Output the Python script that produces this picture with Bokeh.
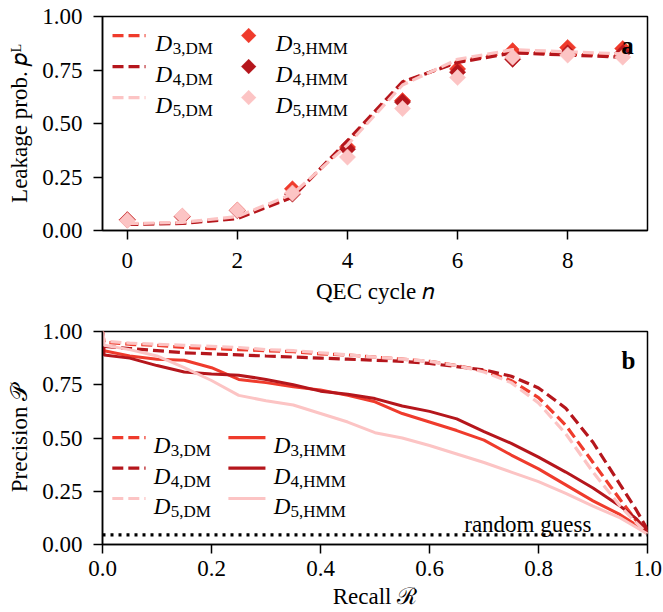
import math
from bokeh.plotting import figure
from bokeh.models import Range1d, FixedTicker, NumeralTickFormatter, Label, Arrow, PolyAnnotation
from bokeh.layouts import column
from bokeh.embed import file_html
from bokeh.resources import INLINE

FONT = "Liberation Serif"

# ---------------- data: panel a ----------------
cycles = [0, 1, 2, 3, 4, 5, 6, 7, 8, 9]
d3_dm = [0.030, 0.035, 0.060, 0.160, 0.410, 0.690, 0.790, 0.835, 0.825, 0.815]
d4_dm = [0.028, 0.033, 0.055, 0.155, 0.420, 0.695, 0.785, 0.830, 0.820, 0.810]
d5_dm = [0.032, 0.038, 0.065, 0.170, 0.400, 0.680, 0.800, 0.845, 0.835, 0.825]
d3_hmm = [0.050, 0.065, 0.095, 0.195, 0.390, 0.607, 0.755, 0.840, 0.855, 0.850]
d4_hmm = [0.050, 0.065, 0.093, 0.170, 0.380, 0.600, 0.740, 0.800, 0.830, 0.830]
d5_hmm = [0.047, 0.068, 0.095, 0.175, 0.343, 0.570, 0.715, 0.810, 0.820, 0.810]

# ---------------- data: panel b ----------------
recall = [0.0, 0.003, 0.05, 0.1, 0.15, 0.2, 0.25, 0.3, 0.35, 0.4, 0.45, 0.5,
          0.55, 0.6, 0.65, 0.7, 0.75, 0.8, 0.85, 0.9, 0.95, 0.98, 1.0]
p3_dm = [1.0, 0.950, 0.940, 0.935, 0.925, 0.920, 0.915, 0.910, 0.905, 0.895, 0.890, 0.880,
         0.870, 0.860, 0.840, 0.815, 0.770, 0.690, 0.560, 0.385, 0.210, 0.110, 0.060]
p4_dm = [1.0, 0.930, 0.920, 0.910, 0.900, 0.895, 0.890, 0.885, 0.880, 0.875, 0.870, 0.865,
         0.860, 0.850, 0.835, 0.820, 0.790, 0.735, 0.640, 0.480, 0.280, 0.160, 0.070]
p5_dm = [1.0, 0.955, 0.945, 0.940, 0.935, 0.930, 0.925, 0.915, 0.910, 0.900, 0.890, 0.880,
         0.870, 0.860, 0.840, 0.810, 0.760, 0.665, 0.520, 0.340, 0.180, 0.100, 0.050]
p3_hmm = [1.0, 0.910, 0.885, 0.870, 0.865, 0.830, 0.775, 0.760, 0.740, 0.725, 0.700, 0.670,
          0.615, 0.575, 0.535, 0.490, 0.420, 0.355, 0.280, 0.205, 0.140, 0.090, 0.050]
p4_hmm = [1.0, 0.890, 0.875, 0.840, 0.810, 0.800, 0.795, 0.775, 0.750, 0.720, 0.705, 0.685,
          0.650, 0.625, 0.590, 0.530, 0.475, 0.410, 0.340, 0.265, 0.180, 0.120, 0.060]
p5_hmm = [1.0, 0.935, 0.915, 0.885, 0.830, 0.770, 0.700, 0.675, 0.655, 0.615, 0.575, 0.525,
          0.500, 0.465, 0.425, 0.385, 0.340, 0.295, 0.240, 0.180, 0.125, 0.080, 0.050]
guess_x = [0.0, 1.0]
guess_y = [0.045, 0.045]

dists = [3, 4, 5]
colors = {3: "#ef3b2c", 4: "#b5161c", 5: "#fcc4c4"}
top_dm = {3: d3_dm, 4: d4_dm, 5: d5_dm}
top_hmm = {3: d3_hmm, 4: d4_hmm, 5: d5_hmm}
bot_dm = {3: p3_dm, 4: p4_dm, 5: p5_dm}
bot_hmm = {3: p3_hmm, 4: p4_hmm, 5: p5_hmm}

W = 663


def make_fig(xr, yr, height, btop, bbot, xlabel, ylabel, xl_standoff, xlab_standoff):
    p = figure(width=W, height=height, x_range=xr, y_range=yr,
               output_backend="svg", toolbar_location=None,
               min_border_left=102, min_border_right=16,
               min_border_top=btop, min_border_bottom=bbot,
               x_axis_label=xlabel, y_axis_label=ylabel)
    p.xgrid.visible = False
    p.ygrid.visible = False
    p.outline_line_color = "black"
    p.outline_line_width = 1.5
    p.outline_line_alpha = 1.0
    p.background_fill_color = "white"
    p.border_fill_color = "white"
    for ax in (p.xaxis[0], p.yaxis[0]):
        ax.axis_line_color = "black"
        ax.axis_line_width = 1.5
        ax.major_tick_line_color = "black"
        ax.major_tick_line_width = 1.5
        ax.major_tick_out = 9
        ax.major_tick_in = 0
        ax.minor_tick_out = 0
        ax.minor_tick_in = 0
        ax.major_label_text_font = FONT
        ax.major_label_text_font_size = "23px"
        ax.major_label_text_color = "black"
        ax.axis_label_text_font = FONT
        ax.axis_label_text_font_size = "23px"
        ax.axis_label_text_font_style = "normal"
        ax.axis_label_text_color = "black"
    p.yaxis[0].major_label_standoff = 11
    p.yaxis[0].axis_label_standoff = 7
    p.xaxis[0].major_label_standoff = xl_standoff
    p.xaxis[0].axis_label_standoff = xlab_standoff
    return p


def lab(p, x, y, text, size="23px", style="normal", align="left",
        baseline="alphabetic", angle=0):
    p.add_layout(Label(x=x, y=y, text=text, text_font=FONT, text_font_size=size,
                       text_font_style=style, text_align=align, text_baseline=baseline,
                       angle=angle, angle_units="deg", text_color="black"))


def seg(p, x0, x1, y, color, dash):
    p.add_layout(Arrow(end=None, x_start=x0, y_start=y, x_end=x1, y_end=y,
                       line_color=color, line_width=3.2, line_dash=dash))


# ================= panel a =================
pa = make_fig(Range1d(-0.45, 9.45), Range1d(0, 1), 310, 16, 80,
              "QEC cycle \U0001D45B", "Leakage prob. \U0001D45D\u1D38", 13, 8)
pa.xaxis[0].ticker = FixedTicker(ticks=[0, 2, 4, 6, 8])
pa.yaxis[0].ticker = FixedTicker(ticks=[0, 0.25, 0.5, 0.75, 1.0])
pa.yaxis[0].formatter = NumeralTickFormatter(format="0.00")

for d in dists:
    pa.line(cycles, top_dm[d], line_color=colors[d], line_width=3.2, line_dash="11 5")
    pa.scatter(cycles, top_hmm[d], marker="square", angle=math.pi / 4, size=11.5,
               fill_color=colors[d], line_color=colors[d], line_width=0.5)

# legend a
rows_a = [0.911, 0.766, 0.621]
for d, ry in zip(dists, rows_a):
    seg(pa, -0.268, 0.332, ry, colors[d], "11 5")
    lab(pa, 0.514, ry - 0.037, "D", style="italic")
    lab(pa, 0.514 + 0.31, ry - 0.061, "%d,DM" % d, size="17px")
    cx, dx, dy = 2.205, 0.136, 0.035
    pa.add_layout(PolyAnnotation(xs=[cx - dx, cx, cx + dx, cx], ys=[ry, ry + dy, ry, ry - dy],
                                 fill_color=colors[d], fill_alpha=1.0,
                                 line_color=colors[d], line_width=0.5))
    lab(pa, 2.695, ry - 0.037, "D", style="italic")
    lab(pa, 2.695 + 0.31, ry - 0.061, "%d,HMM" % d, size="17px")

lab(pa, 9.20, 0.864, "a", size="25px", style="bold", align="right")

# ================= panel b =================
pb = make_fig(Range1d(0, 1), Range1d(0, 1), 302, 21, 68,
              "Recall \u211b", "Precision \U0001D4AB", 7, 5)
pb.xaxis[0].ticker = FixedTicker(ticks=[0, 0.2, 0.4, 0.6, 0.8, 1.0])
pb.xaxis[0].formatter = NumeralTickFormatter(format="0.0")
pb.yaxis[0].ticker = FixedTicker(ticks=[0, 0.25, 0.5, 0.75, 1.0])
pb.yaxis[0].formatter = NumeralTickFormatter(format="0.00")

for d in dists:
    pb.line(recall, bot_dm[d], line_color=colors[d], line_width=3.2, line_dash="11 5")
    pb.line(recall, bot_hmm[d], line_color=colors[d], line_width=3.0)
pb.line(guess_x, guess_y, line_color="black", line_width=3.2, line_dash="3 5")

rows_b = [0.502, 0.359, 0.216]
for d, ry in zip(dists, rows_b):
    seg(pb, 0.018, 0.079, ry, colors[d], "11 5")
    lab(pb, 0.094, ry - 0.0376, "D", style="italic")
    lab(pb, 0.094 + 0.031, ry - 0.061, "%d,DM" % d, size="17px")
    seg(pb, 0.231, 0.299, ry, colors[d], "solid")
    lab(pb, 0.314, ry - 0.0376, "D", style="italic")
    lab(pb, 0.314 + 0.031, ry - 0.061, "%d,HMM" % d, size="17px")

lab(pb, 0.978, 0.864, "b", size="25px", style="bold", align="right")
lab(pb, 0.897, 0.094, "random guess", align="right")

layout = column(pa, pb, spacing=0)
open("out.html", "w").write(file_html(layout, INLINE))
